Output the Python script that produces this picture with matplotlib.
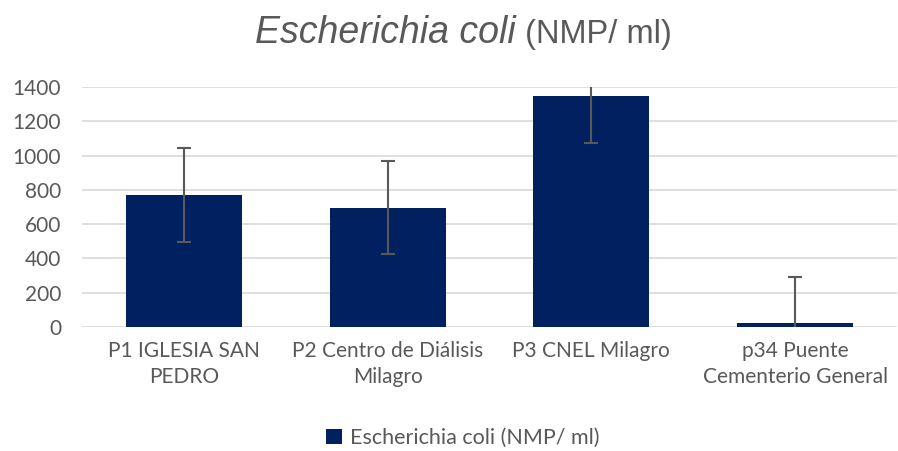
import matplotlib.pyplot as plt
import numpy as np

# data
categories = ["P1 IGLESIA SAN\nPEDRO", "P2 Centro de Diálisis\nMilagro",
              "P3 CNEL Milagro", "p34 Puente\nCementerio General"]
values = [770, 697, 1348, 22]
errors = [272, 272, 272, 272]
yticks = [0, 200, 400, 600, 800, 1000, 1200, 1400]

bar_color = "#002060"
text_color = "#595959"
label_font = "Lato"


def main():
    fig = plt.figure(figsize=(8.98, 4.51), dpi=100)
    ax = fig.add_axes([82 / 898, 1 - 327 / 451, 815 / 898, 240 / 451])

    x = np.arange(len(categories))
    ax.bar(x, values, width=0.57, color=bar_color, zorder=2,
           label="Escherichia coli (NMP/ ml)")
    ax.errorbar(x, values, yerr=errors, fmt="none", ecolor=text_color,
                elinewidth=1.5, capsize=5, capthick=1.5, zorder=3)

    ax.set_xlim(-0.5, len(categories) - 0.5)
    ax.set_ylim(0, 1400)
    ax.set_yticks(yticks)
    ax.set_xticks(x)
    ax.set_xticklabels(categories, fontsize=15, color=text_color,
                       family=label_font, linespacing=1.4)
    for lbl in ax.get_yticklabels():
        lbl.set_fontsize(15)
        lbl.set_color(text_color)
        lbl.set_family(label_font)
    ax.tick_params(length=0)
    ax.tick_params(axis="y", pad=15)
    ax.tick_params(axis="x", pad=10)
    ax.grid(axis="y", color="#d9d9d9", linewidth=1.2, zorder=0)
    for s in ax.spines.values():
        s.set_visible(False)

    # title: italic species name followed by plain unit
    base = 1 - 43 / 451
    t1 = fig.text(0, base, "Escherichia coli", fontsize=27,
                  style="italic", color=text_color, family="Liberation Sans",
                  va="baseline", ha="left")
    t2 = fig.text(0, base, " (NMP/ ml)", fontsize=23.5,
                  color=text_color, family="Liberation Sans",
                  va="baseline", ha="left")
    fig.canvas.draw()
    r = fig.canvas.get_renderer()
    w1 = t1.get_window_extent(r).width
    w2 = t2.get_window_extent(r).width
    start = (898 - (w1 + w2)) / 2 + 14
    t1.set_x(start / 898)
    t2.set_x((start + w1) / 898)

    leg = fig.legend(loc="center", bbox_to_anchor=(0.515, 1 - 438 / 451),
                     frameon=False, handlelength=0.75, handleheight=0.75,
                     handletextpad=0.35,
                     prop={"family": label_font, "size": 15.5})
    for t in leg.get_texts():
        t.set_color(text_color)

    fig.savefig("out.png", dpi=100)


if __name__ == "__main__":
    main()
